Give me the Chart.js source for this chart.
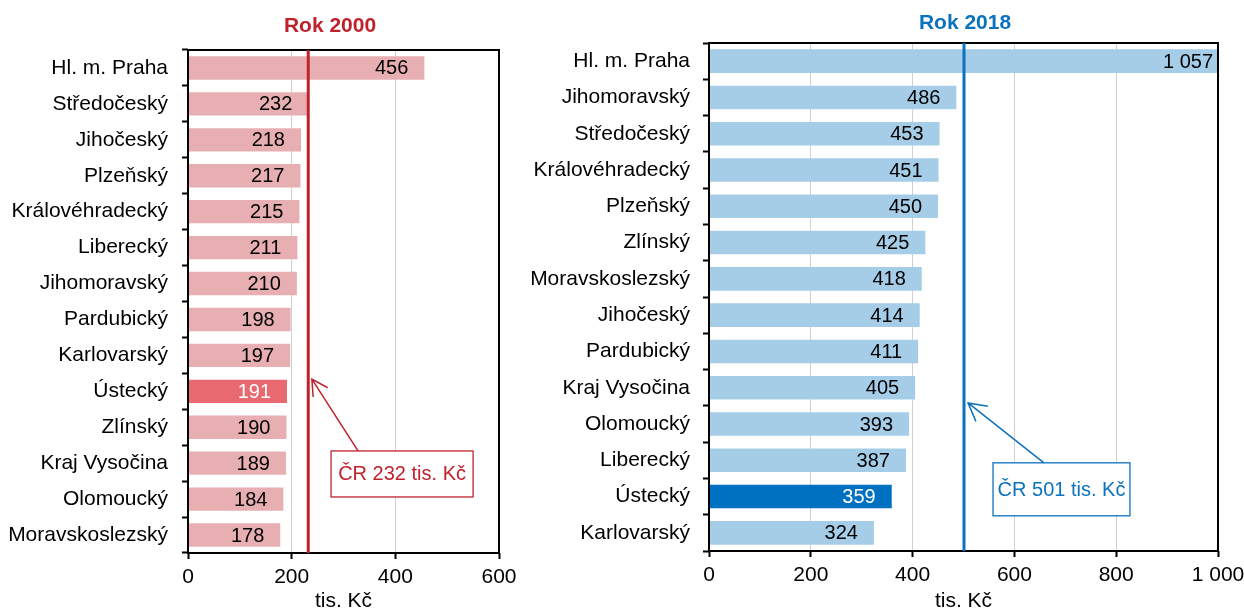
<!DOCTYPE html>
<html lang="cs">
<head>
<meta charset="utf-8">
<title>Rok 2000 / Rok 2018</title>
<script src="https://cdn.jsdelivr.net/npm/chart.js@4.4.1/dist/chart.umd.min.js"></script>
<style>
  body { margin: 0; background: #fff; }
  #wrap { position: relative; width: 1244px; height: 614px; overflow: hidden; font-family: "Liberation Sans", Arial, sans-serif; }
  .panel { position: absolute; top: 0; height: 614px; }
  #left { left: 0; width: 540px; }
  #right { left: 520px; width: 724px; }
  .ttl { position: absolute; font-weight: bold; font-size: 21px; line-height: 24px; transform: translateX(-50%); white-space: nowrap; }
</style>
</head>
<body>
<div id="wrap">
  <div class="panel" id="left"><canvas id="ch2000"></canvas></div>
  <div class="panel" id="right"><canvas id="ch2018"></canvas></div>
  <div class="ttl" style="left:330px; top:13px; color:#C0222C;">Rok 2000</div>
  <div class="ttl" style="left:965px; top:10px; color:#0B72BD;">Rok 2018</div>
</div>
<script>
// data
const regions2000 = ['Hl. m. Praha', 'Středočeský', 'Jihočeský', 'Plzeňský', 'Královéhradecký', 'Liberecký',
  'Jihomoravský', 'Pardubický', 'Karlovarský', 'Ústecký', 'Zlínský', 'Kraj Vysočina', 'Olomoucký', 'Moravskoslezský'];
const values2000 = [456, 232, 218, 217, 215, 211, 210, 198, 197, 191, 190, 189, 184, 178];
const avg2000 = 232;

const regions2018 = ['Hl. m. Praha', 'Jihomoravský', 'Středočeský', 'Královéhradecký', 'Plzeňský', 'Zlínský',
  'Moravskoslezský', 'Jihočeský', 'Pardubický', 'Kraj Vysočina', 'Olomoucký', 'Liberecký', 'Ústecký', 'Karlovarský'];
const values2018 = [1057, 486, 453, 451, 450, 425, 418, 414, 411, 405, 393, 387, 359, 324];
const avg2018 = 501;

const xTicks2000 = [0, 200, 400, 600];
const xTicks2018 = [0, 200, 400, 600, 800, 1000];
const highlight = 'Ústecký';

const FONT = '"Liberation Sans", Arial, sans-serif';

function fmt(v) {
  return String(v).replace(/\B(?=(\d{3})+(?!\d))/g, ' ');
}

// value labels, frame, average line and its callout
const panelDecor = {
  id: 'panelDecor',
  afterDatasetsDraw(chart, args, opts) {
    const { ctx, chartArea: a, scales: { x, y } } = chart;
    const labels = chart.data.labels;
    const data = chart.data.datasets[0].data;
    const meta = chart.getDatasetMeta(0);

    ctx.save();
    ctx.font = '20px ' + FONT;
    ctx.textAlign = 'right';
    ctx.textBaseline = 'middle';
    meta.data.forEach((bar, i) => {
      const lx = Math.min(bar.x - 16, a.right - 5);
      ctx.fillStyle = labels[i] === highlight ? '#fff' : '#000';
      ctx.fillText(fmt(data[i]), lx, bar.y + 1);
    });

    // frame
    ctx.strokeStyle = '#000';
    ctx.lineWidth = 2;
    ctx.strokeRect(a.left, a.top, a.width, a.height);

    // average line
    const ax = x.getPixelForValue(opts.avg);
    ctx.strokeStyle = opts.color;
    ctx.lineWidth = 3;
    ctx.beginPath();
    ctx.moveTo(ax, a.top);
    ctx.lineTo(ax, a.bottom);
    ctx.stroke();

    // callout box
    const c = opts.callout;
    const bx1 = x.getPixelForValue(c.x1), bx2 = x.getPixelForValue(c.x2);
    const by1 = y.getPixelForValue(c.y1), by2 = y.getPixelForValue(c.y2);
    ctx.fillStyle = '#fff';
    ctx.fillRect(bx1, by1, bx2 - bx1, by2 - by1);
    ctx.lineWidth = 1.3;
    ctx.strokeRect(bx1, by1, bx2 - bx1, by2 - by1);
    ctx.fillStyle = opts.color;
    ctx.textAlign = 'center';
    ctx.font = '20px ' + FONT;
    ctx.fillText(c.text, (bx1 + bx2) / 2, (by1 + by2) / 2 + 1);

    // arrow
    const fx = x.getPixelForValue(c.fromX), fy = by1;
    const tx = x.getPixelForValue(c.tipX), ty = y.getPixelForValue(c.tipY);
    const ang = Math.atan2(fy - ty, fx - tx);
    ctx.lineWidth = 1.5;
    ctx.beginPath();
    ctx.moveTo(fx, fy);
    ctx.lineTo(tx, ty);
    ctx.moveTo(tx + c.head * Math.cos(ang - 0.5), ty + c.head * Math.sin(ang - 0.5));
    ctx.lineTo(tx, ty);
    ctx.lineTo(tx + c.head * Math.cos(ang + 0.5), ty + c.head * Math.sin(ang + 0.5));
    ctx.stroke();
    ctx.restore();
  }
};

function makeChart(id, labels, values, cfg) {
  return new Chart(document.getElementById(id), {
    type: 'bar',
    data: {
      labels: labels,
      datasets: [{
        data: values,
        backgroundColor: labels.map(l => l === highlight ? cfg.strong : cfg.light),
        borderWidth: 0,
        categoryPercentage: 1,
        barPercentage: 0.65
      }]
    },
    options: {
      indexAxis: 'y',
      responsive: true,
      maintainAspectRatio: false,
      animation: false,
      layout: { padding: { top: cfg.top, right: cfg.right, left: 0, bottom: 0 } },
      plugins: {
        legend: { display: false },
        tooltip: { enabled: false },
        panelDecor: { avg: cfg.avg, color: cfg.line, callout: cfg.callout }
      },
      scales: {
        x: {
          min: 0,
          max: cfg.max,
          afterBuildTicks: s => { s.ticks = cfg.ticks.map(v => ({ value: v })); },
          afterFit: s => { s.height = cfg.xHeight; s.paddingLeft = 0; s.paddingRight = 0; },
          border: { display: false },
          grid: { color: '#D0D0D0', lineWidth: 1, tickColor: '#000', tickWidth: 2, tickLength: 6 },
          ticks: {
            color: '#000', font: { family: FONT, size: 21 }, padding: 6, maxRotation: 0,
            callback: v => fmt(v)
          },
          title: {
            display: true, text: 'tis. Kč', color: '#000',
            font: { family: FONT, size: 21 }, padding: { top: 0, bottom: 0 }
          }
        },
        y: {
          afterFit: s => { s.width = cfg.yWidth; },
          border: { display: false },
          grid: { drawOnChartArea: false, offset: true, tickColor: '#000', tickWidth: 2, tickLength: 6 },
          ticks: { color: '#000', font: { family: FONT, size: 21 }, padding: cfg.yPad, autoSkip: false }
        }
      }
    },
    plugins: [panelDecor]
  });
}

makeChart('ch2000', regions2000, values2000, {
  light: '#E8AFB3', strong: '#E96970', line: '#C0222C',
  avg: avg2000, max: 600, ticks: xTicks2000,
  top: 50, right: 41, xHeight: 61, yWidth: 188, yPad: 14,
  callout: { text: 'ČR ' + avg2000 + ' tis. Kč', x1: 276, x2: 550, y1: 10.66, y2: 11.94, fromX: 328, tipX: avg2000 + 7, tipY: 8.66, head: 18 }
});

makeChart('ch2018', regions2018, values2018, {
  light: '#A6CDE8', strong: '#0070C0', line: '#0B72BD',
  avg: avg2018, max: 1000, ticks: xTicks2018,
  top: 43, right: 26, xHeight: 63, yWidth: 189, yPad: 13,
  callout: { text: 'ČR ' + avg2018 + ' tis. Kč', x1: 558, x2: 827, y1: 11.07, y2: 12.53, fromX: 658, tipX: avg2018 + 8, tipY: 9.42, head: 20 }
});
</script>
</body>
</html>
